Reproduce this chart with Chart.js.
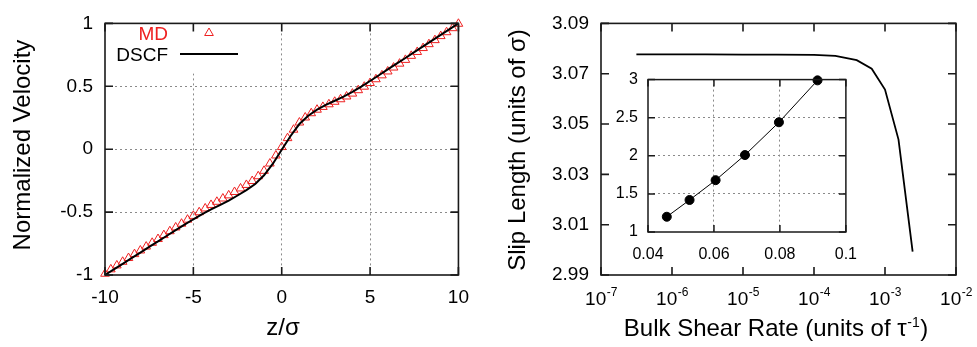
<!DOCTYPE html>
<html>
<head>
<meta charset="utf-8">
<script src="https://cdn.jsdelivr.net/npm/chart.js@4.4.1/dist/chart.umd.min.js"></script>
<style>
    html, body { margin: 0; padding: 0; background: #fff; }
    #wrap { position: relative; width: 977px; height: 347px; overflow: hidden; background: #fff; }
    #wrap canvas { position: absolute; }
</style>
</head>
<body>
<div id="wrap">
    <canvas id="profile" width="480" height="347" style="left:0;top:0"></canvas>
    <canvas id="slip" width="497" height="347" style="left:480px;top:0"></canvas>
    <canvas id="inset" width="270" height="210" style="left:600px;top:60px"></canvas>
</div>
<script>
var FONT = "'Liberation Sans', Arial, Helvetica, sans-serif";
var RED = '#ee2020';

// left panel: velocity profile across the channel
var mdZ = [-10, -9.67, -9.33, -9, -8.67, -8.33, -8, -7.67, -7.33, -7,
    -6.67, -6.33, -6, -5.67, -5.33, -5, -4.67, -4.33, -4, -3.67,
    -3.33, -3, -2.67, -2.33, -2, -1.67, -1.33, -1, -0.67, -0.33,
    0, 0.33, 0.67, 1, 1.33, 1.67, 2, 2.33, 2.67, 3,
    3.33, 3.67, 4, 4.33, 4.67, 5, 5.33, 5.67, 6, 6.33,
    6.67, 7, 7.33, 7.67, 8, 8.33, 8.67, 9, 9.33, 9.67, 10];
var mdVelocity = [-0.990, -0.955, -0.924, -0.895, -0.865, -0.834, -0.805, -0.774, -0.744, -0.714,
    -0.683, -0.652, -0.622, -0.592, -0.560, -0.530, -0.501, -0.471, -0.443, -0.418,
    -0.392, -0.367, -0.340, -0.312, -0.284, -0.253, -0.215, -0.172, -0.114, -0.050,
    0.017, 0.088, 0.155, 0.212, 0.252, 0.286, 0.314, 0.336, 0.357, 0.377,
    0.397, 0.419, 0.442, 0.469, 0.497, 0.526, 0.556, 0.587, 0.618, 0.649,
    0.680, 0.710, 0.742, 0.773, 0.804, 0.835, 0.867, 0.899, 0.930, 0.962, 0.997];
var dscfZ = [-10, -9.5, -9, -8.5, -8, -7.5, -7, -6.5, -6, -5.5,
    -5, -4.5, -4, -3.5, -3, -2.5, -2, -1.5, -1, -0.5,
    0, 0.5, 1, 1.5, 2, 2.5, 3, 3.5, 4, 4.5,
    5, 5.5, 6, 6.5, 7, 7.5, 8, 8.5, 9, 9.5, 10];
var dscfVelocity = [-1.000, -0.955, -0.911, -0.866, -0.822, -0.777, -0.733, -0.688, -0.644, -0.600,
    -0.557, -0.517, -0.479, -0.444, -0.408, -0.368, -0.325, -0.277, -0.207, -0.115,
    -0.005, 0.105, 0.200, 0.266, 0.314, 0.352, 0.385, 0.418, 0.455, 0.497,
    0.542, 0.588, 0.634, 0.680, 0.725, 0.771, 0.817, 0.863, 0.909, 0.954, 1.000];
var zTicks = [-10, -5, 0, 5, 10];
var zTickLabels = ['-10', '-5', '0', '5', '10'];
var velTicks = [-1, -0.5, 0, 0.5, 1];
var velTickLabels = ['-1', '-0.5', '0', '0.5', '1'];

// right panel: slip length against bulk shear rate
var shearRate = [3.15e-7, 1e-6, 3e-6, 1e-5, 3e-5, 1e-4, 2e-4, 4e-4, 6.5e-4, 1e-3, 1.55e-3, 2.45e-3];
var slipLength = [3.0777, 3.0777, 3.0777, 3.0776, 3.0776, 3.0775, 3.0771, 3.0754, 3.0720, 3.0637, 3.0438, 2.9993];
var slipTicks = [2.99, 3.01, 3.03, 3.05, 3.07, 3.09];
var slipTickLabels = ['2.99', '3.01', '3.03', '3.05', '3.07', '3.09'];
var rateTicks = [1e-7, 1e-6, 1e-5, 1e-4, 1e-3, 1e-2];
var rateExponents = ['-7', '-6', '-5', '-4', '-3', '-2'];

// inset
var insetX = [0.0457, 0.0526, 0.0605, 0.0694, 0.0797, 0.0914];
var insetY = [1.20, 1.42, 1.68, 2.01, 2.44, 2.99];
var insetXTicks = [0.04, 0.06, 0.08, 0.1];
var insetXTickLabels = ['0.04', '0.06', '0.08', '0.1'];
var insetYTicks = [1, 1.5, 2, 2.5, 3];
var insetYTickLabels = ['1', '1.5', '2', '2.5', '3'];

Chart.defaults.font.family = FONT;
Chart.defaults.color = '#000';
Chart.defaults.animation = false;

function toPoints(xs, ys) {
    return xs.map(function (x, i) { return { x: x, y: ys[i] }; });
}

function fixedTicks(values) {
    return function (scale) {
        scale.ticks = values.map(function (v) { return { value: v }; });
    };
}

function labelsFrom(list) {
    return function (v, i) { return list[i]; };
}

function innerGrid(ctx) {
    var n = ctx.scale.ticks.length;
    return (ctx.index === 0 || ctx.index === n - 1) ? 'rgba(0,0,0,0)' : '#8a8a8a';
}

// gnuplot style box with inward ticks on all four sides
var framePlugin = {
    id: 'frame',
    afterDraw: function (chart, args, opts) {
        var ctx = chart.ctx, a = chart.chartArea;
        var len = opts.tickLength || 8;
        var xs = chart.scales.x, ys = chart.scales.y;
        ctx.save();
        ctx.strokeStyle = '#1a1a1a';
        ctx.lineWidth = opts.lineWidth || 1.6;
        ctx.beginPath();
        xs.ticks.forEach(function (t) {
            var px = xs.getPixelForValue(t.value);
            ctx.moveTo(px, a.bottom); ctx.lineTo(px, a.bottom - len);
            ctx.moveTo(px, a.top); ctx.lineTo(px, a.top + len);
        });
        ys.ticks.forEach(function (t) {
            var py = ys.getPixelForValue(t.value);
            ctx.moveTo(a.left, py); ctx.lineTo(a.left + len, py);
            ctx.moveTo(a.right, py); ctx.lineTo(a.right - len, py);
        });
        ctx.stroke();
        ctx.strokeRect(a.left, a.top, a.right - a.left, a.bottom - a.top);
        ctx.restore();
    }
};

var profileDecor = {
    id: 'profileDecor',
    beforeDatasetsDraw: function (chart) {
        var ctx = chart.ctx, a = chart.chartArea;
        ctx.save();
        ctx.fillStyle = '#fff';
        ctx.fillRect(a.left + 1, a.top + 1, 140, 49);
        ctx.restore();
    },
    afterDraw: function (chart) {
        var ctx = chart.ctx;
        ctx.save();
        ctx.font = '19px ' + FONT;
        ctx.textAlign = 'right';
        ctx.textBaseline = 'alphabetic';
        ctx.fillStyle = RED;
        ctx.fillText('MD', 168, 40);
        ctx.fillStyle = '#000';
        ctx.fillText('DSCF', 168, 61);

        // legend samples
        var r = 5, cx = 209, cy = 33;
        ctx.strokeStyle = RED;
        ctx.lineWidth = 1;
        ctx.beginPath();
        ctx.moveTo(cx, cy - r);
        ctx.lineTo(cx + r * 0.866, cy + r * 0.5);
        ctx.lineTo(cx - r * 0.866, cy + r * 0.5);
        ctx.closePath();
        ctx.stroke();
        ctx.strokeStyle = '#000';
        ctx.lineWidth = 2;
        ctx.beginPath();
        ctx.moveTo(180, 54);
        ctx.lineTo(238, 54);
        ctx.stroke();

        // axis titles
        ctx.font = '24px ' + FONT;
        ctx.textAlign = 'center';
        ctx.fillText('z/σ', 283, 335);
        ctx.translate(30, 145);
        ctx.rotate(-Math.PI / 2);
        ctx.fillText('Normalized Velocity', 0, 0);
        ctx.restore();
    }
};

var slipDecor = {
    id: 'slipDecor',
    afterDraw: function (chart) {
        var ctx = chart.ctx, xs = chart.scales.x;
        ctx.save();
        ctx.fillStyle = '#000';
        ctx.textAlign = 'left';
        ctx.textBaseline = 'alphabetic';
        rateTicks.forEach(function (v, i) {
            var px = xs.getPixelForValue(v);
            ctx.font = '19px ' + FONT;
            var w1 = ctx.measureText('10').width;
            ctx.font = '12px ' + FONT;
            var w2 = ctx.measureText(rateExponents[i]).width;
            var x0 = px - (w1 + w2) / 2;
            ctx.font = '19px ' + FONT;
            ctx.fillText('10', x0, 305);
            ctx.font = '12px ' + FONT;
            ctx.fillText(rateExponents[i], x0 + w1 + 0.5, 296);
        });

        // x title with superscript
        var main = 'Bulk Shear Rate (units of τ', sup = '-1', close = ')';
        ctx.font = '24px ' + FONT;
        var wMain = ctx.measureText(main).width;
        var wClose = ctx.measureText(close).width;
        ctx.font = '14px ' + FONT;
        var wSup = ctx.measureText(sup).width;
        var start = 295.5 - (wMain + wSup + wClose) / 2;
        ctx.font = '24px ' + FONT;
        ctx.fillText(main, start, 336);
        ctx.fillText(close, start + wMain + wSup + 1, 336);
        ctx.font = '14px ' + FONT;
        ctx.fillText(sup, start + wMain + 0.5, 327);

        ctx.font = '24px ' + FONT;
        ctx.textAlign = 'center';
        ctx.translate(45, 150);
        ctx.rotate(-Math.PI / 2);
        ctx.fillText('Slip Length (units of σ)', 0, 0);
        ctx.restore();
    }
};

new Chart(document.getElementById('profile'), {
    type: 'scatter',
    data: {
        datasets: [{
            label: 'MD',
            data: toPoints(mdZ, mdVelocity),
            showLine: false,
            pointStyle: 'triangle',
            pointRadius: 5,
            borderColor: RED,
            backgroundColor: 'rgba(0,0,0,0)',
            borderWidth: 1,
            clip: false,
            order: 2
        }, {
            label: 'DSCF',
            data: toPoints(dscfZ, dscfVelocity),
            showLine: true,
            borderColor: '#000',
            borderWidth: 2,
            pointRadius: 0,
            tension: 0,
            clip: false,
            order: 1
        }]
    },
    options: {
        responsive: false,
        devicePixelRatio: 1,
        events: [],
        layout: { padding: { top: 15, right: 19, left: 0, bottom: 0 } },
        plugins: {
            legend: { display: false },
            tooltip: { enabled: false },
            frame: { tickLength: 8, lineWidth: 1.6 }
        },
        scales: {
            x: {
                type: 'linear',
                min: -10,
                max: 10,
                afterBuildTicks: fixedTicks(zTicks),
                ticks: { padding: 11, font: { size: 19 }, color: '#000', callback: labelsFrom(zTickLabels) },
                grid: { drawTicks: false, color: innerGrid, lineWidth: 1 },
                border: { display: false, dash: [2, 3] },
                afterFit: function (s) { s.height = 72; }
            },
            y: {
                min: -1,
                max: 1,
                afterBuildTicks: fixedTicks(velTicks),
                ticks: { padding: 12, font: { size: 19 }, color: '#000', callback: labelsFrom(velTickLabels) },
                grid: { drawTicks: false, color: innerGrid, lineWidth: 1 },
                border: { display: false, dash: [2, 3] },
                afterFit: function (s) { s.width = 105; }
            }
        }
    },
    plugins: [profileDecor, framePlugin]
});

new Chart(document.getElementById('slip'), {
    type: 'scatter',
    data: {
        datasets: [{
            data: toPoints(shearRate, slipLength),
            showLine: true,
            borderColor: '#000',
            borderWidth: 1.8,
            pointRadius: 0,
            tension: 0
        }]
    },
    options: {
        responsive: false,
        devicePixelRatio: 1,
        events: [],
        layout: { padding: { top: 15, right: 21, left: 0, bottom: 0 } },
        plugins: {
            legend: { display: false },
            tooltip: { enabled: false },
            frame: { tickLength: 8, lineWidth: 1.6 }
        },
        scales: {
            x: {
                type: 'logarithmic',
                min: 1e-7,
                max: 1e-2,
                afterBuildTicks: fixedTicks(rateTicks),
                ticks: { display: false },
                grid: { display: false, drawTicks: false },
                border: { display: false },
                afterFit: function (s) { s.height = 72; }
            },
            y: {
                min: 2.99,
                max: 3.09,
                afterBuildTicks: fixedTicks(slipTicks),
                ticks: { padding: 12, font: { size: 19 }, color: '#000', callback: labelsFrom(slipTickLabels) },
                grid: { display: false, drawTicks: false },
                border: { display: false },
                afterFit: function (s) { s.width = 121; }
            }
        }
    },
    plugins: [slipDecor, framePlugin]
});

new Chart(document.getElementById('inset'), {
    type: 'scatter',
    data: {
        datasets: [{
            data: toPoints(insetX, insetY),
            showLine: true,
            borderColor: '#000',
            borderWidth: 1,
            pointRadius: 4.5,
            pointBackgroundColor: '#000',
            pointBorderColor: '#000',
            tension: 0,
            clip: false
        }]
    },
    options: {
        responsive: false,
        devicePixelRatio: 1,
        events: [],
        layout: { padding: { top: 15, right: 12, left: 0, bottom: 0 } },
        plugins: {
            legend: { display: false },
            tooltip: { enabled: false },
            frame: { tickLength: 7, lineWidth: 1.5 }
        },
        scales: {
            x: {
                min: 0.04,
                max: 0.1,
                afterBuildTicks: fixedTicks(insetXTicks),
                ticks: { padding: 13, font: { size: 16 }, color: '#000', callback: labelsFrom(insetXTickLabels) },
                grid: { drawTicks: false, color: innerGrid, lineWidth: 1 },
                border: { display: false, dash: [2, 3] },
                afterFit: function (s) { s.height = 38; }
            },
            y: {
                min: 1,
                max: 3,
                afterBuildTicks: fixedTicks(insetYTicks),
                ticks: { padding: 10, font: { size: 16 }, color: '#000', callback: labelsFrom(insetYTickLabels) },
                grid: { drawTicks: false, color: innerGrid, lineWidth: 1 },
                border: { display: false, dash: [2, 3] },
                afterFit: function (s) { s.width = 48; }
            }
        }
    },
    plugins: [framePlugin]
});
</script>
</body>
</html>
